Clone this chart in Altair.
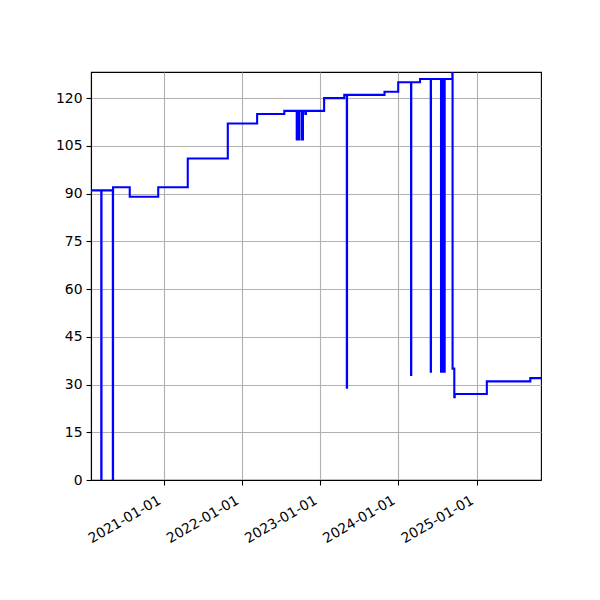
import altair as alt
import pandas as pd

# change points of the step series (value holds until next date)
dates = [
    "2020-01-27", "2020-03-15", "2020-03-16", "2020-05-08", "2020-05-09",
    "2020-07-26", "2020-12-06", "2021-04-23", "2021-10-27", "2022-03-13",
    "2022-07-18",
    "2022-09-14", "2022-09-15", "2022-09-20", "2022-09-21", "2022-09-25", "2022-09-26",
    "2022-10-08", "2022-10-09", "2022-10-12", "2022-10-13",
    "2022-10-24", "2022-10-27",
    "2023-01-20", "2023-04-24", "2023-05-06", "2023-05-07", "2023-10-29",
    "2024-01-01", "2024-03-01", "2024-03-02", "2024-04-12",
    "2024-06-01", "2024-06-02",
    "2024-07-19", "2024-07-20", "2024-07-23", "2024-07-24", "2024-07-27", "2024-07-28",
    "2024-07-31", "2024-08-01", "2024-08-04", "2024-08-05",
    "2024-09-10", "2024-09-11", "2024-09-19", "2024-09-21",
    "2025-02-18", "2025-09-09", "2025-10-29",
]
values = [
    91, 0, 91, 0, 92,
    89, 92, 101, 112, 115,
    116,
    107, 116, 107, 116, 107, 116,
    107, 116, 107, 116,
    115, 116,
    120, 121, 29, 121, 122,
    125, 33, 125, 126,
    34, 126,
    34, 126, 34, 126, 34, 126,
    34, 126, 34, 126,
    132, 35, 26, 27,
    31, 32, 32,
]

y_ticks = [0, 15, 30, 45, 60, 75, 90, 105, 120]
x_ticks = [2021, 2022, 2023, 2024, 2025]

df = pd.DataFrame({"date": dates, "value": values})

chart = alt.Chart(df).mark_line(
    interpolate="step-after", color="blue", strokeWidth=2.1, clip=True
).encode(
    x=alt.X(
        "date:T",
        title=None,
        scale=alt.Scale(
            type="utc",
            domain=[
                alt.DateTime(year=2020, month=1, date=27, utc=True),
                alt.DateTime(year=2025, month=10, date=29, utc=True),
            ],
        ),
        axis=alt.Axis(
            values=[alt.DateTime(year=y, month=1, date=1, utc=True) for y in x_ticks],
            labelExpr="utcFormat(datum.value, '%Y-%m-%d')",
            labelAngle=-30,
            labelAlign="right",
            labelBaseline="top",
            labelOffset=-8,
            labelPadding=8,
        ),
    ),
    y=alt.Y(
        "value:Q",
        title=None,
        scale=alt.Scale(domain=[0, 128.2], nice=False, zero=False),
        axis=alt.Axis(values=y_ticks, labelPadding=4),
    ),
).properties(
    width=450,
    height=408,
    autosize=alt.AutoSizeParams(type="none"),
    padding={"left": 83, "top": 64, "right": 40, "bottom": 100},
).configure_view(
    stroke="black", strokeWidth=1.1
).configure_axis(
    grid=True,
    gridColor="#b0b0b0",
    gridWidth=1.1,
    domainColor="black",
    domainWidth=1.1,
    tickColor="black",
    tickWidth=1.1,
    tickSize=5,
    labelFont="DejaVu Sans",
    labelFontSize=13.9,
    labelColor="black",
)

chart.save("out.html", embed_options={"renderer": "svg", "actions": False})
